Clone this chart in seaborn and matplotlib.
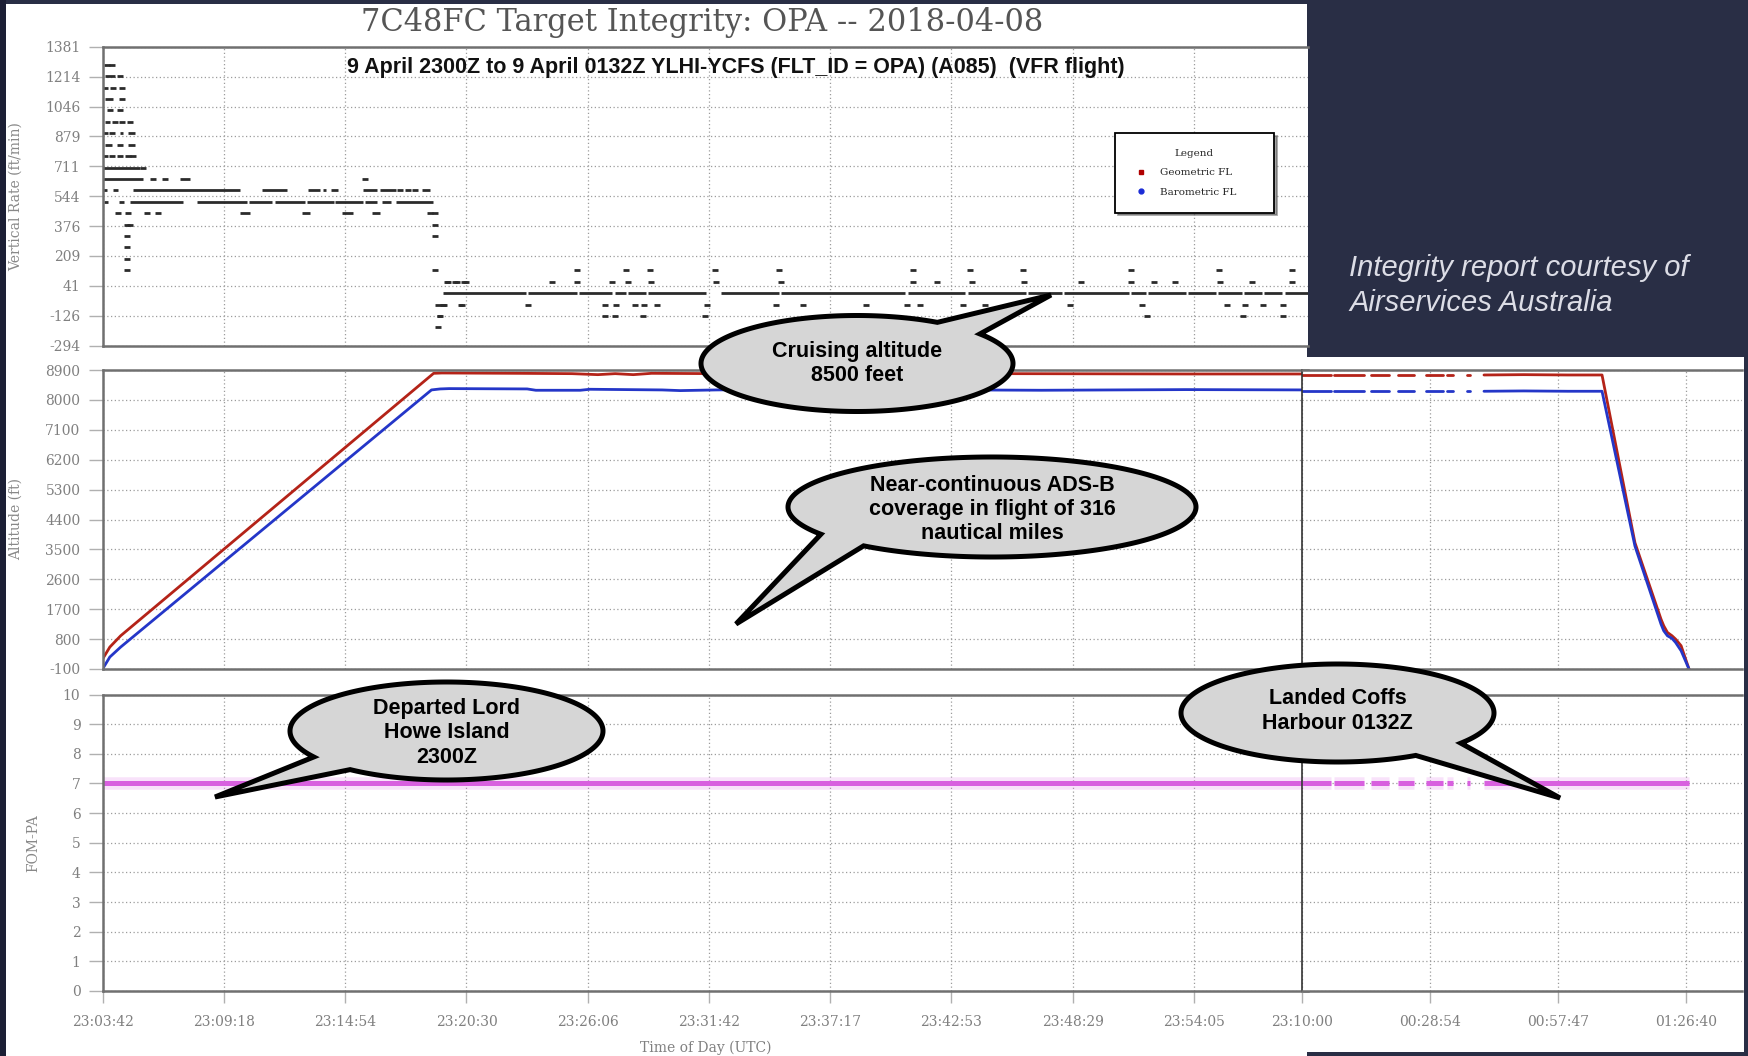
import numpy as np
import pandas as pd
import matplotlib
matplotlib.use("Agg")
import matplotlib.pyplot as plt
import seaborn as sns
from matplotlib.patches import Rectangle, Polygon
from matplotlib.lines import Line2D
from matplotlib import font_manager as fm

# ---------------------------------------------------------------- data
title = "7C48FC Target Integrity: OPA -- 2018-04-08"
subtitle = "9 April 2300Z to 9 April 0132Z YLHI-YCFS (FLT_ID = OPA) (A085)  (VFR flight)"

# main time axis: seconds after 23:03:42
main_tick_sec = [0, 336, 672, 1008, 1344, 1680, 2015, 2351, 2687, 3023]
main_tick_lbl = ["23:03:42", "23:09:18", "23:14:54", "23:20:30", "23:26:06",
                 "23:31:42", "23:37:17", "23:42:53", "23:48:29", "23:54:05"]
# pasted inset time axis (seconds)
inset_tick_sec = [0, 1734, 3467, 5200]
inset_tick_lbl = ["23:10:00", "00:28:54", "00:57:47", "01:26:40"]

vr_ticks = [1381, 1214, 1046, 879, 711, 544, 376, 209, 41, -126, -294]
alt_ticks = [8900, 8000, 7100, 6200, 5300, 4400, 3500, 2600, 1700, 800, -100]
fom_ticks = [0, 1, 2, 3, 4, 5, 6, 7, 8, 9, 10]

# vertical rate: dense runs of reports (level ft/min, start s, end s)
run_level = [704, 640, 640, 640,
             576, 576, 576, 576, 576, 576, 576, 576, 576, 576,
             512, 512, 512, 512, 512, 512, 512, 512, 512, 512, 512,
             448, 448, 448, 448,
             832, 832, 832, 896, 896, 960, 1024, 1088, 1216,
             -64, -64, -128,
             0, 0, 0, 0, 0, 0, 0, 0, 0, 0, 0, 0, 0, 0, 0, 0, 0, 0, 0]
run_start = [0, 0, 131, 214,
             0, 30, 85, 441, 570, 610, 633, 722, 768, 884,
             5, 45, 75, 261, 405, 478, 565, 645, 728, 775, 812,
             381, 551, 662, 745,
             7, 39, 71, 48, 71, 7, 11, 7, 7,
             921, 985, 925,
             944, 1178, 1321, 1418, 1455, 1510, 1712, 1879, 2230, 2396,
             2563, 2664, 2849, 2895, 3006, 3089, 3163, 3218, 3274]
run_end = [104, 112, 149, 242,
           13, 43, 381, 510, 601, 620, 653, 759, 814, 907,
           15, 60, 224, 400, 470, 560, 640, 720, 760, 800, 916,
           408, 574, 694, 768,
           25, 57, 90, 57, 90, 21, 30, 30, 35,
           953, 999, 939,
           1172, 1315, 1412, 1449, 1504, 1671, 1873, 2224, 2390, 2557,
           2658, 2843, 2889, 3000, 3083, 3157, 3212, 3268, 3339]

# vertical rate: isolated reports
pt_time = [113, 173, 727, 824, 847, 866,
           7, 25, 34, 53, 76, 48, 53, 7, 30, 53, 48, 11, 25,
           7, 25, 48, 71, 85,
           43, 71, 122, 154, 907, 921,
           67, 76, 921, 67, 921, 67, 67, 67, 921, 930,
           953, 976, 1000, 1008,
           1313, 1449, 1516, 1696, 1875, 2244, 2403, 2550, 2850, 3093, 3294,
           958, 981, 1244, 1313, 1410, 1454, 1518, 1699, 1878, 2244, 2310,
           2407, 2552, 2709, 2850, 2912, 2970, 3095, 3183, 3296,
           944, 995, 1179, 1392, 1421, 1475, 1500, 1535, 1673, 1864, 1941,
           2116, 2227, 2264, 2384, 2445, 2680, 2880, 3114, 3164, 3215, 3271,
           935, 1392, 1419, 1498, 1669, 2892, 3160, 3271]
pt_rate = [704, 640, 640, 576, 576, 576,
           896, 896, 960, 960, 960, 1024, 1088, 1152, 1152, 1152, 1216, 1280, 1280,
           768, 768, 768, 768, 768,
           448, 448, 448, 448, 448, 448,
           384, 384, 384, 320, 320, 256, 192, 128, 128, -192,
           64, 64, 64, 64,
           128, 128, 128, 128, 128, 128, 128, 128, 128, 128, 128,
           64, 64, 64, 64, 64, 64, 64, 64, 64, 64, 64,
           64, 64, 64, 64, 64, 64, 64, 64, 64,
           -64, -64, -64, -64, -64, -64, -64, -64, -64, -64, -64,
           -64, -64, -64, -64, -64, -64, -64, -64, -64, -64, -64,
           -128, -128, -128, -128, -128, -128, -128, -128]

# altitude, main chart
alt_t_geo = [0, 20, 50, 917, 940, 1150, 1300, 1372, 1420, 1470,
             1521, 1700, 2000, 2500, 3000, 3339]
alt_geo = [200, 560, 900, 8800, 8810, 8800, 8790, 8760, 8790,
           8760, 8800, 8790, 8800, 8790, 8780, 8780]
alt_t_baro = [0, 20, 50, 911, 935, 960, 1176, 1200, 1323, 1350,
              1450, 1550, 1600, 1700, 1800, 2200, 2600, 3000, 3339]
alt_baro = [-100, 260, 560, 8300, 8330, 8340, 8330, 8290, 8290,
            8320, 8310, 8300, 8280, 8300, 8310, 8310, 8290, 8310, 8300]

# altitude / FOM, pasted inset (segments separated by coverage gaps)
ins_t = [0, 393, 430, 840, 935, 1178, 1294, 1517, 1680, 1910, 1964, 2045,
         2240, 2270, 2465, 3000, 3600, 4064, 4510, 4863, 4900, 4950, 5012,
         5060, 5135, 5242]
ins_seg = [0, 0, 1, 1, 2, 2, 3, 3, 4, 4, 5, 5, 6, 6,
           7, 7, 7, 7, 7, 7, 7, 7, 7, 7, 7, 7]
ins_geo = [8750, 8750, 8750, 8750, 8750, 8750, 8750, 8750, 8750, 8750, 8750,
           8750, 8750, 8750, 8750, 8760, 8750, 8750, 3700, 1400, 1200, 1000,
           900, 800, 600, -100]
ins_baro = [8260, 8260, 8260, 8260, 8260, 8260, 8260, 8260, 8260, 8260, 8260,
            8260, 8260, 8260, 8260, 8270, 8260, 8260, 3600, 1250, 1050, 900,
            820, 700, 450, -100]

fom_main_t = [0, 3339]
fom_main = [7, 7]
ins_fom_t = [0, 393, 430, 840, 935, 1178, 1294, 1517, 1680, 1910, 1964, 2045,
             2240, 2270, 2465, 5242]
ins_fom_seg = [0, 0, 1, 1, 2, 2, 3, 3, 4, 4, 5, 5, 6, 6, 7, 7]
ins_fom = [7, 7, 7, 7, 7, 7, 7, 7, 7, 7, 7, 7, 7, 7, 7, 7]

# ---------------------------------------------------------------- style
sns.set_theme(style="white")


def pick(families):
    for f in families:
        try:
            fm.findfont(fm.FontProperties(family=f), fallback_to_default=False)
            return f
        except Exception:
            pass
    return "DejaVu Sans"


SANS = pick(["Liberation Sans", "DejaVu Sans"])
SERIF = "DejaVu Serif"
plt.rcParams["font.family"] = [SERIF, "DejaVu Sans"]

W, H = 1748, 1056
fig = plt.figure(figsize=(W / 100, H / 100), dpi=100, facecolor="#292e45")


def fx(x):
    return x / W


def fy(y):
    return 1 - y / H


# dark left strip and white chart areas
fig.add_artist(Rectangle((0, 0), 6 / W, 1, transform=fig.transFigure,
                         facecolor="#1c1f35", edgecolor="none", zorder=-6))
fig.add_artist(Rectangle((fx(6), 0), (1307 - 6) / W, (1056 - 4) / H,
                         transform=fig.transFigure, facecolor="white",
                         edgecolor="none", zorder=-5))
fig.add_artist(Rectangle((fx(1302), fy(1052)), (1744 - 1302) / W, (1052 - 357) / H,
                         transform=fig.transFigure, facecolor="white",
                         edgecolor="none", zorder=-5))

ML, MR = 102.6, 1308
IL, IR = 1302, 1742
ax_vr = fig.add_axes([fx(ML), fy(345.6), (MR - ML) / W, (345.6 - 46.8) / H])
ax_alt = fig.add_axes([fx(ML), fy(669), (MR - ML) / W, (669 - 370) / H])
ax_fom = fig.add_axes([fx(ML), fy(991), (MR - ML) / W, (991 - 694.5) / H])
ax_alt2 = fig.add_axes([fx(IL), fy(669), (IR - IL) / W, (669 - 370) / H])
ax_fom2 = fig.add_axes([fx(IL), fy(991), (IR - IL) / W, (991 - 694.5) / H])

main_xlim = (0, 3339)
inset_xlim = (0, 5960)


def style(ax, yticks, ylim, xticks, xlim, xlabels=None, inset=False):
    ax.set_facecolor("white")
    ax.set_xlim(xlim)
    ax.set_ylim(ylim)
    ax.set_xticks(xticks)
    ax.set_yticks(yticks)
    ax.grid(True, color="#9c9c9c", linestyle=(0, (1, 2)), linewidth=0.9)
    for s in ["top", "bottom"]:
        ax.spines[s].set_color("#707070")
        ax.spines[s].set_linewidth(1.8)
    ax.spines["right"].set_visible(False)
    if inset:
        ax.spines["left"].set_color("#333333")
        ax.spines["left"].set_linewidth(1.2)
        ax.tick_params(axis="y", left=False, labelleft=False)
    else:
        ax.spines["left"].set_color("#707070")
        ax.spines["left"].set_linewidth(1.8)
        ax.set_yticklabels([str(v) for v in yticks])
        ax.tick_params(axis="y", left=True, direction="out", length=10,
                       width=1, color="#b0b0b0", pad=6, labelsize=10,
                       labelcolor="#808080")
    if xlabels is None:
        ax.tick_params(axis="x", bottom=False, labelbottom=False)
    else:
        ax.set_xticklabels(xlabels)
        ax.tick_params(axis="x", bottom=True, direction="out", length=8.6,
                       width=1, color="#b0b0b0", pad=9, labelsize=10,
                       labelcolor="#808080")
    ax.set_xlabel("")
    ax.set_ylabel("")


# --- vertical rate panel
ax_vr.hlines(run_level, run_start, run_end, colors="#2b2b2b", linewidth=2.0)
df_pts = pd.DataFrame({"t": pt_time, "rate": pt_rate})
sns.scatterplot(data=df_pts, x="t", y="rate", marker="_", s=25, linewidth=2.0,
                color="#2b2b2b", ax=ax_vr, legend=False)
style(ax_vr, vr_ticks, (-294, 1381), main_tick_sec, main_xlim)
ax_vr.set_ylabel("Vertical Rate (ft/min)", fontsize=10, color="#888888", labelpad=16)

handles = [Line2D([], [], marker="s", color="#b00000", ls="", ms=3.5),
           Line2D([], [], marker="o", color="#1a2bd6", ls="", ms=3.5)]
leg = ax_vr.legend(handles, ["Geometric FL", "Barometric FL"], title="Legend",
                   loc="upper left",
                   bbox_to_anchor=(fx(1115), fy(133) - 0.001, (1274 - 1115) / W, 0.001),
                   bbox_transform=fig.transFigure, mode="expand",
                   fontsize=7.5, title_fontsize=7.5, frameon=True, fancybox=False,
                   shadow=True, borderpad=1.5, labelspacing=1.0, handletextpad=0.8,
                   borderaxespad=0)
leg.get_frame().set_edgecolor("black")
leg.get_frame().set_linewidth(1.3)

# --- altitude panel
df_geo = pd.DataFrame({"t": alt_t_geo, "alt": alt_geo})
df_baro = pd.DataFrame({"t": alt_t_baro, "alt": alt_baro})
sns.lineplot(data=df_geo, x="t", y="alt", color="#b42318", linewidth=2.0, ax=ax_alt)
sns.lineplot(data=df_baro, x="t", y="alt", color="#2436c8", linewidth=2.0, ax=ax_alt)
style(ax_alt, alt_ticks, (-100, 8900), main_tick_sec, main_xlim)
ax_alt.set_ylabel("Altitude (ft)", fontsize=10, color="#888888", labelpad=16)

df_ins = pd.DataFrame({"t": ins_t, "seg": ins_seg, "geo": ins_geo, "baro": ins_baro})
sns.lineplot(data=df_ins, x="t", y="geo", units="seg", estimator=None,
             color="#b42318", linewidth=2.0, ax=ax_alt2)
sns.lineplot(data=df_ins, x="t", y="baro", units="seg", estimator=None,
             color="#2436c8", linewidth=2.0, ax=ax_alt2)
style(ax_alt2, alt_ticks, (-100, 8900), inset_tick_sec, inset_xlim, inset=True)

# --- FOM panel
df_fom = pd.DataFrame({"t": fom_main_t, "fom": fom_main})
sns.lineplot(data=df_fom, x="t", y="fom", color="#e070e6", linewidth=9, alpha=0.2,
             ax=ax_fom)
sns.lineplot(data=df_fom, x="t", y="fom", color="#d860df", linewidth=3.6, ax=ax_fom)
style(ax_fom, fom_ticks, (0, 10), main_tick_sec, main_xlim, xlabels=main_tick_lbl)
ax_fom.set_ylabel("FOM-PA", fontsize=10, color="#888888", labelpad=16)
ax_fom.set_xlabel("Time of Day (UTC)", fontsize=10, color="#808080", labelpad=8)

df_fom2 = pd.DataFrame({"t": ins_fom_t, "seg": ins_fom_seg, "fom": ins_fom})
sns.lineplot(data=df_fom2, x="t", y="fom", units="seg", estimator=None,
             color="#e070e6", linewidth=9, alpha=0.2, ax=ax_fom2)
sns.lineplot(data=df_fom2, x="t", y="fom", units="seg", estimator=None,
             color="#d860df", linewidth=3.6, ax=ax_fom2)
for ln in ax_fom2.get_lines():
    ln.set_solid_capstyle("butt")
style(ax_fom2, fom_ticks, (0, 10), inset_tick_sec, inset_xlim,
      xlabels=inset_tick_lbl, inset=True)

# --- titles and side text
fig.text(fx(702), fy(22), title, ha="center", va="center", fontsize=22,
         color="#555555", family=SERIF)
fig.text(fx(736), fy(67), subtitle, ha="center", va="center", fontsize=15.5,
         fontweight="bold", color="#111111", family=SANS, zorder=6)
fig.text(fx(1349), fy(267.5), "Integrity report courtesy of", ha="left", va="center",
         fontsize=21, style="italic", color="#dcdde6", family=SANS)
fig.text(fx(1349), fy(303), "Airservices Australia", ha="left", va="center",
         fontsize=21, style="italic", color="#dcdde6", family=SANS)


# --- speech bubbles (annotations)
def bubble(cx, cy, a, b, t1, t2, tip, text, ty):
    ang = np.radians(np.linspace(t2, t1 + 360, 240))
    xs = cx + a * np.cos(ang)
    ys = cy + b * np.sin(ang)
    pts = [(fx(x), fy(y)) for x, y in zip(xs, ys)] + [(fx(tip[0]), fy(tip[1]))]
    poly = Polygon(pts, closed=True, transform=fig.transFigure, facecolor="#d6d6d6",
                   edgecolor="black", linewidth=3.6, joinstyle="miter", zorder=10)
    fig.add_artist(poly)
    fig.text(fx(cx), fy(ty), text, ha="center", va="center", fontsize=15.5,
             fontweight="bold", color="black", family=SANS, linespacing=1.2,
             zorder=11)


bubble(857, 363.5, 156, 48, -59, -38, (1051, 295), "Cruising altitude\n8500 feet", 363.5)
bubble(992, 507, 204, 50, 129, 147, (736, 624),
       "Near-continuous ADS-B\ncoverage in flight of 316\nnautical miles", 509.5)
bubble(446.5, 731, 156.5, 49, 128, 148, (215, 797), "Departed Lord\nHowe Island\n2300Z", 733)
bubble(1337.5, 713, 156.5, 49, 38, 60, (1560, 798), "Landed Coffs\nHarbour 0132Z", 711)

fig.savefig("out.png", dpi=100, facecolor=fig.get_facecolor())
